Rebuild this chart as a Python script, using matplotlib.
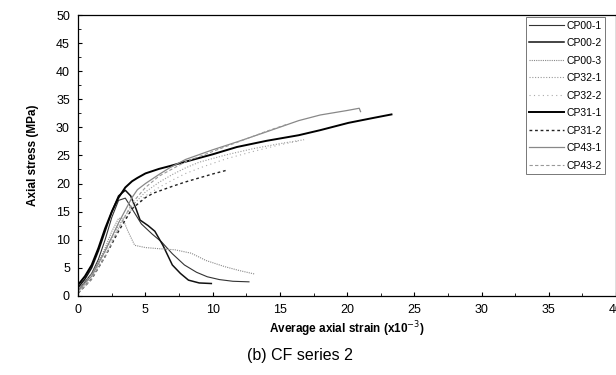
import matplotlib
matplotlib.use("Agg")
import matplotlib.pyplot as plt
from matplotlib.ticker import MultipleLocator

plt.rcParams['font.family'] = ['Liberation Sans', 'DejaVu Sans']

# ---- data ----
labels = ["CP00-1", "CP00-2", "CP00-3", "CP32-1", "CP32-2",
          "CP31-1", "CP31-2", "CP43-1", "CP43-2"]

cp00_1_x = [0, 0.5, 1, 1.5, 2, 2.5, 3.0, 3.5, 4.0, 4.7, 5.5, 6.2, 7.0, 7.9, 8.8, 9.6, 10.5, 11.5, 12.7]
cp00_1_y = [1.0, 2.5, 4.0, 6.5, 10.0, 14.0, 17.0, 17.4, 15.5, 12.8, 11.0, 9.6, 7.5, 5.5, 4.2, 3.4, 2.9, 2.6, 2.5]

cp00_2_x = [0, 0.5, 1, 1.5, 2, 2.5, 3, 3.5, 3.9, 4.3, 4.6, 5.2, 5.7, 6.3, 7.0, 7.6, 8.2, 9.0, 9.9]
cp00_2_y = [1.5, 3, 5, 8, 11.5, 15, 17.8, 18.8, 17.8, 15.5, 13.5, 12.5, 11.5, 9, 5.5, 4, 2.8, 2.3, 2.2]

cp00_3_x = [0, 0.5, 1, 1.5, 2, 2.5, 3.0, 3.3, 3.7, 4.2, 5, 6, 7.2, 8.4, 9.5, 10.9, 12, 13.1]
cp00_3_y = [0.8, 2.5, 4, 6, 8.5, 11.5, 13.8, 13.8, 11.5, 9.0, 8.6, 8.4, 8.2, 7.6, 6.3, 5.2, 4.5, 3.9]

cp32_1_x = [0, 1, 2, 3, 4, 5, 6, 7, 8, 9, 11, 13, 15, 16.8]
cp32_1_y = [0.8, 3.5, 8, 12.5, 16, 18.5, 20.2, 21.6, 22.8, 23.8, 25.1, 26.2, 27.1, 27.8]

cp32_2_x = [0, 1, 2, 3, 4, 5, 6, 7, 8, 9.3, 11, 13, 15, 16.5]
cp32_2_y = [0.6, 3.0, 7.5, 12, 15.5, 17.8, 19.3, 20.6, 21.8, 23.0, 24.4, 25.7, 26.9, 27.6]

cp31_1_x = [0, 0.5, 1, 1.5, 2, 2.5, 3, 3.5, 4, 4.4, 5, 6, 6.8, 8, 10, 11.8, 14, 16.4, 18, 20.1, 22, 23.3]
cp31_1_y = [2.0, 3.5, 5.5, 8.5, 12, 15, 17.5, 19.3, 20.4, 21.0, 21.8, 22.6, 23.1, 23.9, 25.2, 26.5, 27.6, 28.6, 29.5, 30.8, 31.7, 32.3]

cp31_2_x = [0, 1, 2, 3, 4, 5, 5.6, 7, 8, 9, 10, 11.1]
cp31_2_y = [0.5, 3, 7, 11.5, 15.5, 17.5, 18.3, 19.5, 20.3, 21.0, 21.7, 22.4]

cp43_1_x = [0, 1, 2, 3, 4, 4.4, 5, 6, 6.8, 8, 10, 11.8, 14, 16.4, 18, 20, 20.9, 21.0]
cp43_1_y = [1.0, 3.5, 8, 13, 17.5, 18.9, 20.0, 21.6, 22.8, 24.3, 26.0, 27.4, 29.2, 31.2, 32.2, 33.0, 33.4, 32.8]

cp43_2_x = [0, 1, 2, 3, 4, 5, 6, 7, 8, 10, 12, 14, 15.6]
cp43_2_y = [0.5, 3, 7, 12, 16.5, 19.3, 21.3, 22.6, 23.9, 25.7, 27.5, 29.3, 30.6]

series_x = [cp00_1_x, cp00_2_x, cp00_3_x, cp32_1_x, cp32_2_x, cp31_1_x, cp31_2_x, cp43_1_x, cp43_2_x]
series_y = [cp00_1_y, cp00_2_y, cp00_3_y, cp32_1_y, cp32_2_y, cp31_1_y, cp31_2_y, cp43_1_y, cp43_2_y]

styles = [
    dict(color="#333333", lw=0.8, ls="-"),
    dict(color="#111111", lw=1.1, ls="-"),
    dict(color="#888888", lw=0.8, ls=(0, (1, 1))),
    dict(color="#999999", lw=0.8, ls=(0, (1, 1.5))),
    dict(color="#aaaaaa", lw=0.8, ls=(0, (1, 3))),
    dict(color="#000000", lw=1.4, ls="-"),
    dict(color="#222222", lw=1.0, ls=(0, (2, 2))),
    dict(color="#888888", lw=0.9, ls="-"),
    dict(color="#999999", lw=0.8, ls=(0, (3, 2))),
]

fig = plt.figure(figsize=(6.16, 3.75), dpi=100)
ax = fig.add_axes([0.127, 0.211, 0.873, 0.749])

for x, y, lab, st in zip(series_x, series_y, labels, styles):
    ax.plot(x, y, label=lab, **st)

ax.set_xlim(0, 40)
ax.set_ylim(0, 50)
ax.xaxis.set_major_locator(MultipleLocator(5))
ax.yaxis.set_major_locator(MultipleLocator(5))
ax.xaxis.set_minor_locator(MultipleLocator(2.5))
ax.yaxis.set_minor_locator(MultipleLocator(2.5))
ax.tick_params(which="both", direction="in", top=False, right=False, labelsize=9, pad=6)
ax.tick_params(which="major", length=3)
ax.tick_params(which="minor", length=2)
for s in ax.spines.values():
    s.set_linewidth(0.9)

ax.set_xlabel("Average axial strain (x10$^{-3}$)", fontsize=8.5, fontweight="bold", labelpad=2)
ax.set_ylabel("Axial stress (MPa)", fontsize=8.5, fontweight="bold", labelpad=12)

leg = ax.legend(loc="upper right", bbox_to_anchor=(0.982, 0.995), fontsize=7.5,
                frameon=True, fancybox=False, edgecolor="#555555",
                handlelength=3.3, handletextpad=0.3, labelspacing=0.72,
                borderpad=0.3, borderaxespad=0.1)
leg.get_frame().set_linewidth(0.7)

fig.text(0.487, 0.052, "(b) CF series 2", fontsize=11.5, ha="center", va="center")

fig.savefig("out.png", dpi=100)
